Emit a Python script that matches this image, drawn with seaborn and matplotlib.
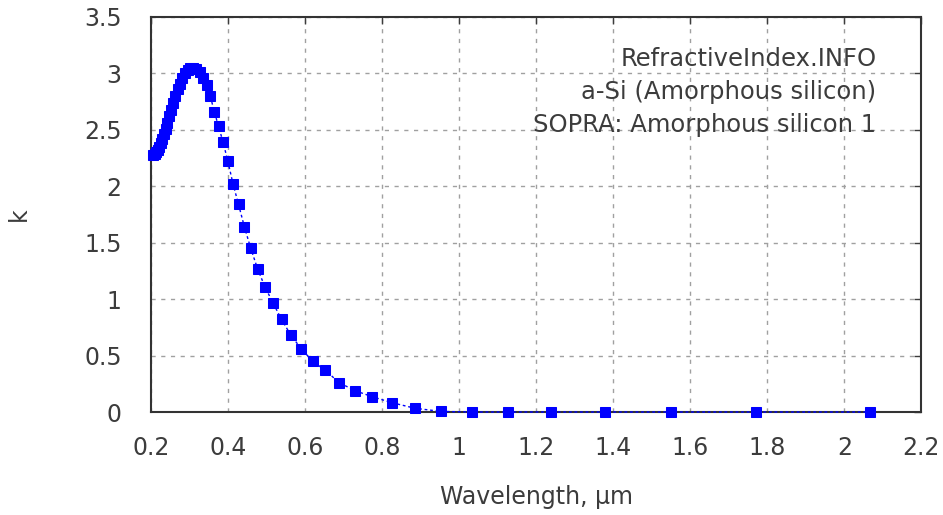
import matplotlib
matplotlib.use("Agg")
import matplotlib.pyplot as plt
import seaborn as sns
import pandas as pd

# wavelength (um) and extinction coefficient k
wavelength = [0.2066, 0.2101, 0.2138, 0.2175, 0.2214, 0.2254, 0.2296, 0.2339,
              0.2384, 0.2431, 0.2480, 0.2530, 0.2583, 0.2638, 0.2695, 0.2755,
              0.2818, 0.2883, 0.2952, 0.3024, 0.3100, 0.3179, 0.3263, 0.3351,
              0.3444, 0.3542, 0.3647, 0.3757, 0.3875, 0.4000, 0.4133, 0.4275,
              0.4428, 0.4592, 0.4769, 0.4959, 0.5166, 0.5391, 0.5636, 0.5904,
              0.6199, 0.6526, 0.6888, 0.7293, 0.7749, 0.8266, 0.8856, 0.9537,
              1.0332, 1.1271, 1.2398, 1.3776, 1.5498, 1.7712, 2.0664]
k = [2.28, 2.29, 2.30, 2.32, 2.35, 2.38, 2.42, 2.46,
     2.51, 2.56, 2.62, 2.68, 2.74, 2.80, 2.86, 2.91,
     2.96, 3.00, 3.03, 3.05, 3.05, 3.04, 3.01, 2.96,
     2.90, 2.80, 2.66, 2.53, 2.39, 2.22, 2.02, 1.84,
     1.64, 1.45, 1.27, 1.11, 0.97, 0.82, 0.68, 0.56,
     0.45, 0.37, 0.26, 0.19, 0.135, 0.082, 0.033, 0.005,
     0.0, 0.0, 0.0, 0.0, 0.0, 0.0, 0.0]

x_ticks = [0.2, 0.4, 0.6, 0.8, 1, 1.2, 1.4, 1.6, 1.8, 2, 2.2]
y_ticks = [0, 0.5, 1, 1.5, 2, 2.5, 3, 3.5]
info_lines = ["RefractiveIndex.INFO", "a-Si (Amorphous silicon)",
              "SOPRA: Amorphous silicon 1"]

sns.set_style("white")
plt.rcParams['font.family'] = ['DejaVu Sans']
txt_col = "#3c3c3c"

df = pd.DataFrame({"wl": wavelength, "k": k})

fig = plt.figure(figsize=(9.43, 5.15), dpi=100)
ax = fig.add_axes([0.160, 0.200, 0.817, 0.767])

sns.lineplot(data=df, x="wl", y="k", sort=False, ax=ax, color="#0000ff",
             linestyle=(0, (2, 2)), linewidth=1.0, marker="s",
             markersize=7, markeredgecolor="#0000ff", zorder=3, clip_on=False)

ax.set_xlim(0.2, 2.2)
ax.set_ylim(0, 3.5)
ax.set_xticks(x_ticks)
ax.set_xticklabels([f"{t:g}" for t in x_ticks])
ax.set_yticks(y_ticks)
ax.set_yticklabels([f"{t:g}" for t in y_ticks])

ax.grid(True, color="#a0a0a0", linestyle=(0, (3, 4)), linewidth=1.0)
for s in ax.spines.values():
    s.set_color("#333333")
    s.set_linewidth(1.5)
ax.tick_params(direction="in", length=5, width=1.0, colors=txt_col,
               top=True, right=True, labelsize=17)
ax.tick_params(axis="x", pad=17)
ax.tick_params(axis="y", pad=21)

ax.set_xlabel("Wavelength, µm", fontsize=17, color=txt_col, labelpad=18)
ax.set_ylabel("k", fontsize=17, color=txt_col, labelpad=38)

# three info lines, right aligned in the upper right corner
for line, yy in zip(info_lines, [0.876, 0.792, 0.710]):
    ax.text(0.9416, yy, line, transform=ax.transAxes, ha="right",
            va="baseline", fontsize=17.5, color=txt_col)

fig.savefig("out.png", dpi=100)
